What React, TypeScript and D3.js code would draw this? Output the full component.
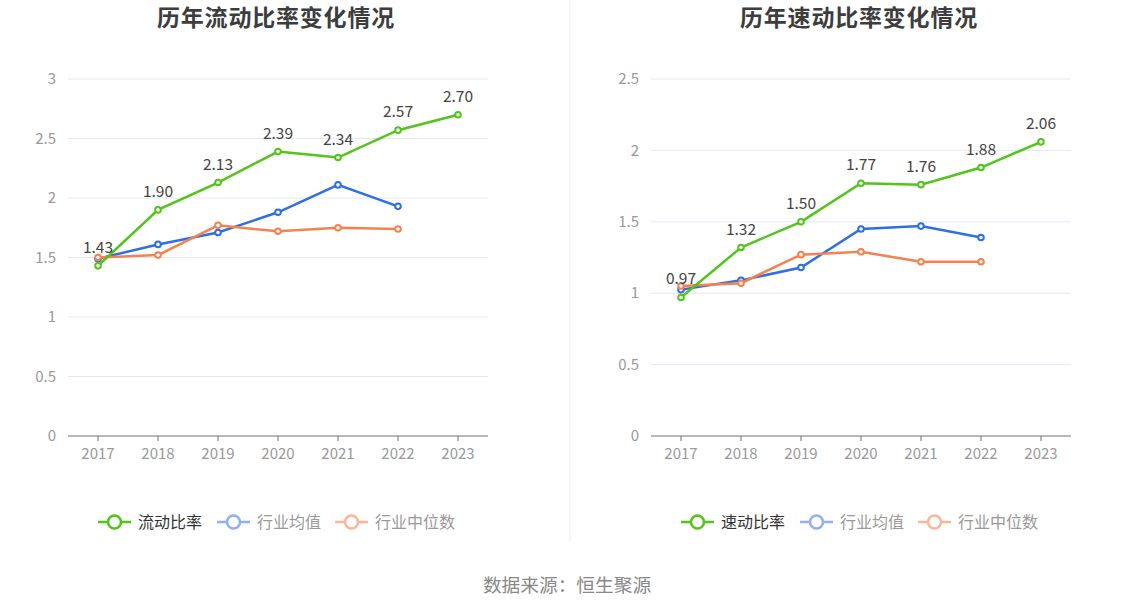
import React from "react";
import * as d3 from "d3";

const years = ["2017", "2018", "2019", "2020", "2021", "2022", "2023"];

const currentRatio = [1.43, 1.9, 2.13, 2.39, 2.34, 2.57, 2.7];
const currentIndustryMean = [1.49, 1.61, 1.71, 1.88, 2.11, 1.93];
const currentIndustryMedian = [1.5, 1.52, 1.77, 1.72, 1.75, 1.74];
const currentTicks = [0, 0.5, 1, 1.5, 2, 2.5, 3];

const quickRatio = [0.97, 1.32, 1.5, 1.77, 1.76, 1.88, 2.06];
const quickIndustryMean = [1.025, 1.09, 1.18, 1.45, 1.47, 1.39];
const quickIndustryMedian = [1.05, 1.07, 1.27, 1.29, 1.22, 1.22];
const quickTicks = [0, 0.5, 1, 1.5, 2, 2.5];

const GREEN = "#52c41a";
const BLUE = "#2f6fe4";
const ORANGE = "#f5814f";
const FONT = "'Noto Sans CJK SC', 'Noto Sans', sans-serif";

type PanelProps = {
  x0: number;
  title: string;
  mainName: string;
  main: number[];
  mean: number[];
  median: number[];
  ticks: number[];
  yMax: number;
};

function Panel({ x0, title, mainName, main, mean, median, ticks, yMax }: PanelProps) {
  const left = x0 + 68;
  const right = x0 + 488;
  const top = 79;
  const bottom = 436;
  const x = d3.scaleBand<string>().domain(years).range([left, right]).padding(0);
  const cx = (i: number) => (x(years[i]) as number) + x.bandwidth() / 2;
  const y = d3.scaleLinear().domain([0, yMax]).range([bottom, top]);
  const line = d3
    .line<number>()
    .x((_, i) => cx(i))
    .y((d) => y(d));
  const center = x0 + 276;

  const series = [
    { data: mean, color: BLUE },
    { data: median, color: ORANGE },
    { data: main, color: GREEN },
  ];

  const legend = [
    { name: mainName, color: GREEN, text: "#333", lx: x0 + 98 },
    { name: "行业均值", color: "#8fb0f2", text: "#999", lx: x0 + 217 },
    { name: "行业中位数", color: "#fbb69a", text: "#999", lx: x0 + 335 },
  ];

  return (
    <g>
      <text
        x={center}
        y={26}
        textAnchor="middle"
        fontSize={23}
        fontWeight="bold"
        letterSpacing={0.8}
        fill="#3d3d3d"
        fontFamily={FONT}
      >
        {title}
      </text>
      {ticks.map((t) => (
        <g key={t}>
          {t !== 0 && (
            <line x1={left} x2={right} y1={y(t)} y2={y(t)} stroke="#e3e8f3" strokeWidth={1} />
          )}
          <text
            x={left - 12}
            y={y(t)}
            dy="0.35em"
            textAnchor="end"
            fontSize={15}
            fill="#999"
            fontFamily={FONT}
          >
            {t}
          </text>
        </g>
      ))}
      <line x1={left} x2={right} y1={bottom} y2={bottom} stroke="#6e7079" strokeWidth={1} />
      {years.map((yr, i) => (
        <g key={yr}>
          <line x1={cx(i)} x2={cx(i)} y1={bottom} y2={bottom + 5} stroke="#6e7079" />
          <text
            x={cx(i)}
            y={bottom + 23}
            textAnchor="middle"
            fontSize={15}
            fill="#999"
            fontFamily={FONT}
          >
            {yr}
          </text>
        </g>
      ))}
      {series.map((s, si) => (
        <g key={si}>
          <path d={line(s.data) || ""} fill="none" stroke={s.color} strokeWidth={2.5} />
          {s.data.map((d, i) => (
            <circle key={i} cx={cx(i)} cy={y(d)} r={2.8} fill="#fff" stroke={s.color} strokeWidth={2} />
          ))}
        </g>
      ))}
      {main.map((d, i) => (
        <text
          key={i}
          x={cx(i)}
          y={y(d) - 13}
          textAnchor="middle"
          fontSize={15.5}
          fill="#444"
          fontFamily={FONT}
        >
          {d.toFixed(2)}
        </text>
      ))}
      {legend.map((l) => (
        <g key={l.name}>
          <line x1={l.lx} x2={l.lx + 33} y1={522} y2={522} stroke={l.color} strokeWidth={2.5} />
          <circle cx={l.lx + 16.5} cy={522} r={6.5} fill="#fff" stroke={l.color} strokeWidth={2.5} />
          <text
            x={l.lx + 40}
            y={522}
            dy="0.35em"
            fontSize={16}
            fill={l.text}
            fontFamily={FONT}
          >
            {l.name}
          </text>
        </g>
      ))}
    </g>
  );
}

export default function App() {
  return (
    <svg
      width={1134}
      height={612}
      style={{ position: "absolute", left: 0, top: 0, background: "#fff" }}
    >
      <rect width={1134} height={612} fill="#fff" />
      <line x1={570} x2={570} y1={0} y2={542} stroke="#eeeeee" strokeWidth={1} />
      <Panel
        x0={0}
        title="历年流动比率变化情况"
        mainName="流动比率"
        main={currentRatio}
        mean={currentIndustryMean}
        median={currentIndustryMedian}
        ticks={currentTicks}
        yMax={3}
      />
      <Panel
        x0={583}
        title="历年速动比率变化情况"
        mainName="速动比率"
        main={quickRatio}
        mean={quickIndustryMean}
        median={quickIndustryMedian}
        ticks={quickTicks}
        yMax={2.5}
      />
      <text
        x={567}
        y={592}
        textAnchor="middle"
        fontSize={18.7}
        fill="#888"
        fontFamily={FONT}
      >
        数据来源：恒生聚源
      </text>
    </svg>
  );
}
